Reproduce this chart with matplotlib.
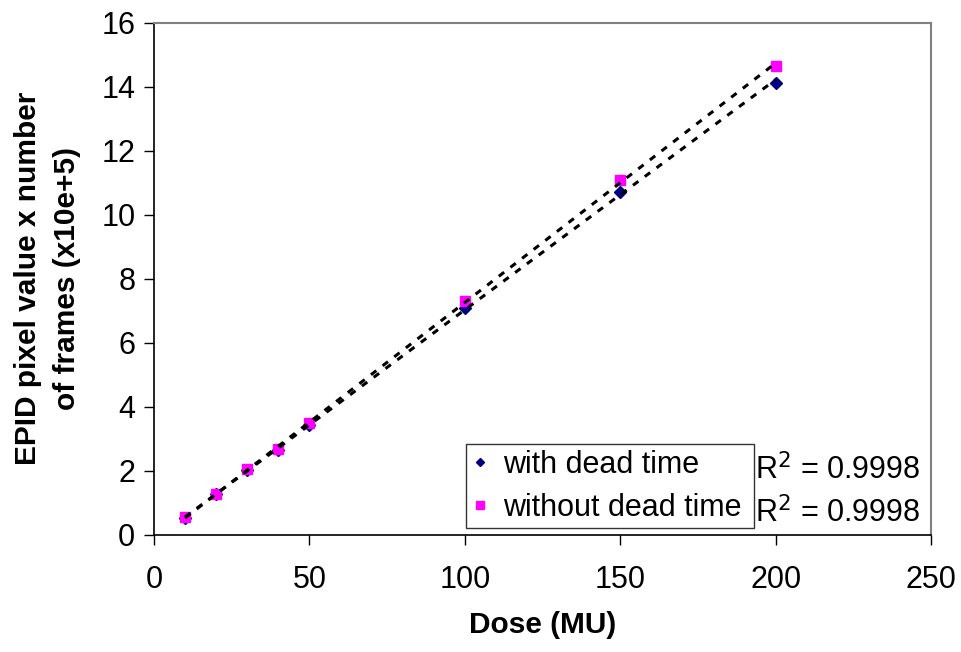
import matplotlib
matplotlib.use("Agg")
import matplotlib.pyplot as plt
import numpy as np
from matplotlib.lines import Line2D

plt.rcParams['font.family'] = ['Liberation Sans', 'DejaVu Sans']

dose = [10, 20, 30, 40, 50, 100, 150, 200]
with_dead = [0.53, 1.27, 2.03, 2.64, 3.43, 7.08, 10.72, 14.13]
without_dead = [0.54, 1.28, 2.05, 2.68, 3.48, 7.31, 11.09, 14.66]
series_names = ["with dead time", "without dead time"]
r2_labels = ["R$^2$ = 0.9998", "R$^2$ = 0.9998"]
xticks = [0, 50, 100, 150, 200, 250]
yticks = [0, 2, 4, 6, 8, 10, 12, 14, 16]

fig = plt.figure(figsize=(9.62, 6.52), dpi=100)
ax = fig.add_axes([154/962, 1-534.7/652, 777/962, 512/652])

ax.plot(dose, with_dead, linestyle='none', marker='D', color='#000080',
        markersize=6, zorder=3)
ax.plot(dose, without_dead, linestyle='none', marker='s', color='#FF00FF',
        markersize=7.5, zorder=3)

x = np.array(dose, dtype=float)
for ys in (with_dead, without_dead):
    m, b = np.polyfit(x, np.array(ys), 1)
    xf = np.array([x.min(), x.max()])
    ax.plot(xf, m*xf + b, color='black', linewidth=2.2,
            linestyle=(0, (2.2, 2.6)), zorder=4)

ax.set_xlim(0, 250)
ax.set_ylim(0, 16)
ax.set_xticks(xticks)
ax.set_yticks(yticks)
ax.tick_params(axis='both', direction='out', length=7.5, width=1,
               labelsize=22, color='black')
ax.tick_params(axis='x', pad=14)
ax.tick_params(axis='y', pad=6)

for s in ('left', 'bottom'):
    ax.spines[s].set_color('black')
    ax.spines[s].set_linewidth(1.2)
for s in ('top', 'right'):
    ax.spines[s].set_color('#808080')
    ax.spines[s].set_linewidth(1.5)

ax.set_xlabel("Dose (MU)", fontsize=21.5, fontweight='bold', labelpad=12)
fig.text(28/962, 0.573, "EPID pixel value x number", rotation=90,
         ha='center', va='center', fontsize=21.5, fontweight='bold')
fig.text(67/962, 0.573, "of frames (x10e+5)", rotation=90,
         ha='center', va='center', fontsize=21.5, fontweight='bold')

handles = [
    Line2D([], [], linestyle='none', marker='D', color='#000080', markersize=4.5),
    Line2D([], [], linestyle='none', marker='s', color='#FF00FF', markersize=6),
]
leg = ax.legend(handles, series_names, loc='lower left',
                bbox_to_anchor=(0.401, 0.013, 0.371, 0.17), mode='expand',
                fontsize=22, frameon=True, fancybox=False,
                handlelength=0.6, handletextpad=0.45, borderpad=0.18,
                labelspacing=0.42, borderaxespad=0)
leg.get_frame().set_edgecolor('black')
leg.get_frame().set_linewidth(1.0)

ax.text(0.774, 0.126, r2_labels[0], transform=ax.transAxes,
        ha='left', va='center', fontsize=22)
ax.text(0.774, 0.043, r2_labels[1], transform=ax.transAxes,
        ha='left', va='center', fontsize=22)

fig.savefig("out.png", dpi=100)
